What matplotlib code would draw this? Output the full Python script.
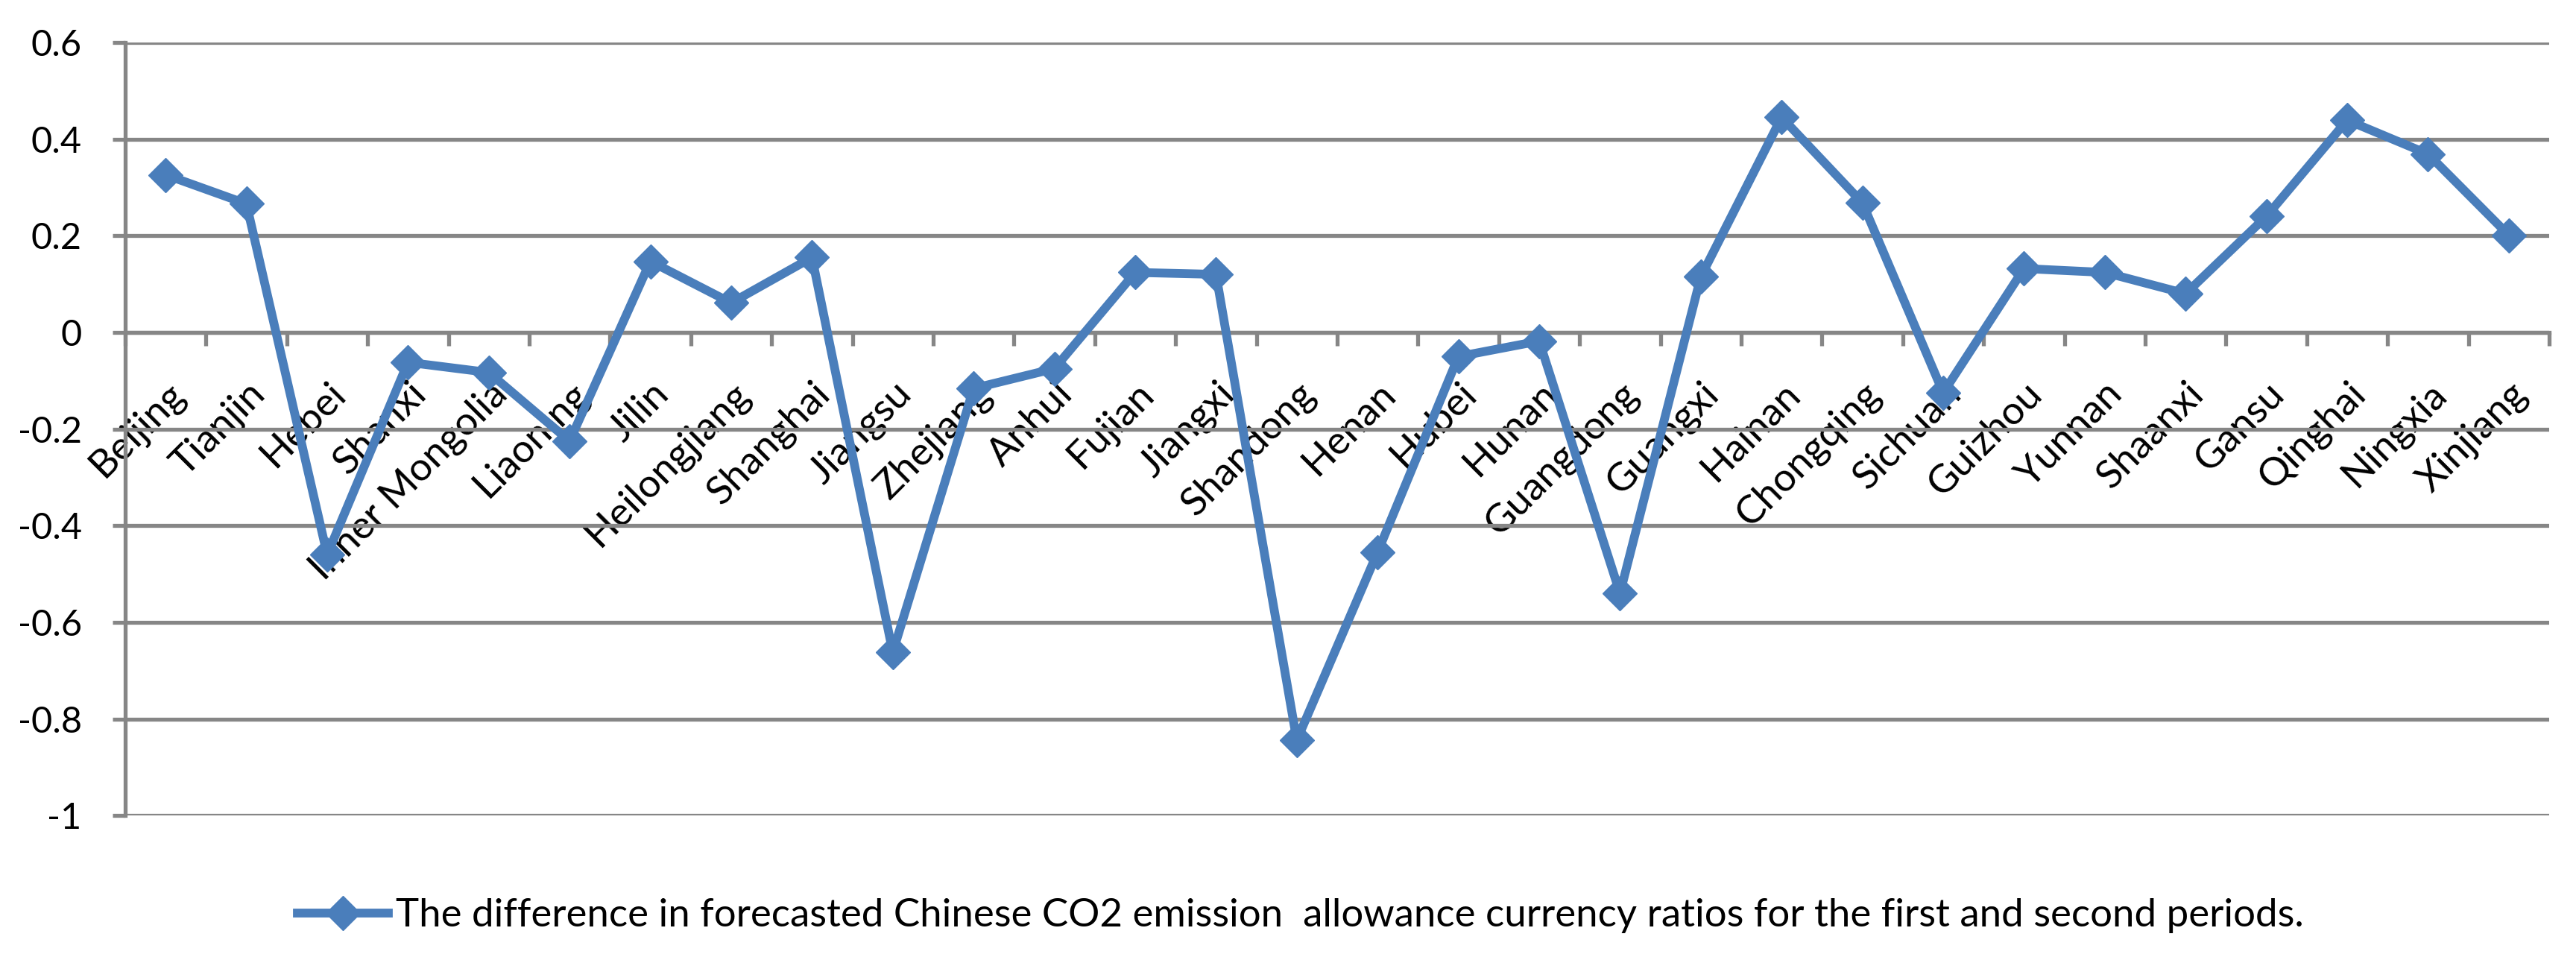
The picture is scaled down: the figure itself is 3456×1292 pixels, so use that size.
import matplotlib.pyplot as plt
import numpy as np

provinces = ["Beijing", "Tianjin", "Hebei", "Shanxi", "Inner Mongolia", "Liaoning",
             "Jilin", "Heilongjiang", "Shanghai", "Jiangsu", "Zhejiang", "Anhui",
             "Fujian", "Jiangxi", "Shandong", "Henan", "Hubei", "Hunan", "Guangdong",
             "Guangxi", "Hainan", "Chongqing", "Sichuan", "Guizhou", "Yunnan",
             "Shaanxi", "Gansu", "Qinghai", "Ningxia", "Xinjiang"]
diff = [0.326, 0.266, -0.46, -0.062, -0.083, -0.225, 0.147, 0.061, 0.155, -0.662,
        -0.116, -0.075, 0.124, 0.12, -0.844, -0.455, -0.05, -0.018, -0.54, 0.115,
        0.445, 0.268, -0.125, 0.132, 0.124, 0.08, 0.24, 0.439, 0.369, 0.201]
yticks = [0.6, 0.4, 0.2, 0, -0.2, -0.4, -0.6, -0.8, -1]
ytick_labels = ["0.6", "0.4", "0.2", "0", "-0.2", "-0.4", "-0.6", "-0.8", "-1"]
legend_label = ("The difference in forecasted Chinese CO2 emission  allowance currency "
                "ratios for the first and second periods.")

plt.rcParams['font.family'] = ['Lato', 'DejaVu Sans']
grey = '#868686'
blue = '#4A7EBB'

fig = plt.figure(figsize=(34.56, 12.92), dpi=100)
ax = fig.add_axes([0.0486, 0.153, 0.9410, 0.803])

x = np.arange(len(provinces))
ax.plot(x, diff, color=blue, lw=8.5, marker='D', ms=23, mec=blue, mfc=blue,
        label=legend_label, zorder=3)

ax.set_xlim(-0.5, len(provinces) - 0.5)
ax.set_ylim(-1, 0.6)
ax.set_yticks(yticks, ytick_labels)
ax.yaxis.grid(True, color=grey, lw=3.8)
ax.set_axisbelow(True)

for s in ['top', 'right']:
    ax.spines[s].set_visible(False)
ax.spines['left'].set_color(grey)
ax.spines['left'].set_linewidth(3.8)
ax.spines['bottom'].set_color(grey)
ax.spines['bottom'].set_linewidth(3.8)
ax.spines['bottom'].set_position(('data', 0))

ax.set_xticks(x, provinces, rotation=45, ha='right', rotation_mode='anchor')
ax.set_xticks(np.arange(-0.5, len(provinces)), minor=True)
ax.tick_params(axis='x', which='major', length=0, pad=42, labelsize=38)
ax.tick_params(axis='x', which='minor', length=13, width=3.8, color=grey)
ax.tick_params(axis='y', length=12, width=3.8, color=grey, pad=30, labelsize=35)

fig.legend(loc='center', bbox_to_anchor=(0.505, 0.049), frameon=False, fontsize=38,
           handlelength=2.3, handletextpad=0.2)

fig.savefig("out.png", dpi=100)
